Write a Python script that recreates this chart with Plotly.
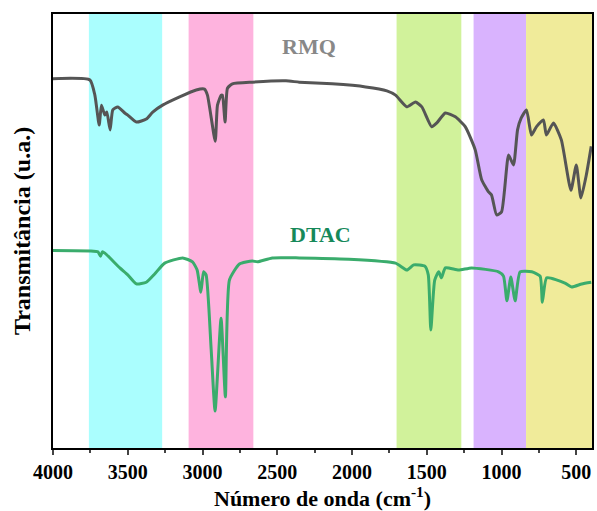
import plotly.graph_objects as go

# FTIR spectra (transmittance, arbitrary units)
rmq_wn = [4000, 3753, 3720, 3691, 3676, 3653, 3640, 3618, 3600, 3567, 3520, 3500, 3442,
          3376, 3333, 3267, 3153, 3042, 2987, 2967, 2915, 2900, 2875, 2867, 2849, 2833,
          2800, 2667, 2442, 2353, 2133, 1909, 1767, 1709, 1633, 1576, 1533, 1467, 1433,
          1376, 1309, 1242, 1176, 1133, 1087, 1067, 1033, 1000, 953, 920, 893, 869, 833,
          800, 767, 720, 700, 653, 600, 536, 500, 469, 433, 400]
rmq_t = [85.1, 84.8, 81.3, 74.4, 79.0, 76.7, 77.4, 73.3, 77.9, 78.6, 77.2, 76.7, 75.1,
         75.8, 77.4, 79.0, 80.9, 82.5, 82.7, 81.3, 70.7, 79.0, 81.3, 81.3, 75.1, 82.9,
         83.9, 84.3, 84.6, 84.3, 83.9, 83.2, 82.3, 81.3, 78.6, 79.7, 78.6, 74.0, 74.9,
         77.2, 76.3, 74.0, 68.7, 61.8, 59.0, 58.3, 53.7, 54.4, 67.5, 65.2, 73.3, 76.0, 77.9,
         72.1, 74.0, 75.6, 72.1, 74.9, 71.0, 59.4, 65.2, 57.6, 62.9, 69.5]

dtac_wn = [4000, 3753, 3700, 3682, 3670, 3653, 3553, 3500, 3442, 3376, 3320, 3253, 3133,
           3067, 3036, 3011, 2993, 2976, 2942, 2916, 2876, 2847, 2820, 2753, 2667, 2633,
           2533, 2353, 2020, 1709, 1633, 1587, 1513, 1490, 1473, 1447, 1420, 1402, 1376,
           1287, 1200, 1020, 987, 964, 938, 909, 876, 798, 742, 727, 698, 576, 531, 464, 400]
dtac_t = [45.5, 45.4, 45.2, 44.2, 45.2, 44.9, 41.5, 39.9, 37.8, 38.2, 40.1, 42.6, 43.8,
          42.9, 41.0, 35.9, 40.6, 39.9, 22.6, 8.5, 29.9, 11.8, 38.7, 42.4, 43.1, 42.9,
          43.8, 43.8, 43.5, 42.6, 41.0, 42.2, 41.9, 39.9, 27.2, 38.7, 40.6, 39.2, 41.5,
          41.0, 41.5, 40.6, 39.6, 33.9, 39.4, 33.9, 40.6, 40.6, 39.6, 33.6, 39.2, 38.0,
          37.1, 37.8, 38.2]

# Highlighted spectral regions (cm-1) and their fill colours
band_start = [3760, 3093, 1702, 1187, 836]
band_end = [3270, 2660, 1269, 836, 395]
band_color = ["#aafefe", "#feb3de", "#d1f29b", "#d9b3fe", "#f0eb9a"]

series_names = ["RMQ", "DTAC"]
series_color = ["#555555", "#3aac6c"]
label_color = ["#888888", "#16895a"]
label_wn = [2287, 2210]
label_t = [92.4, 49.1]

tick_vals = [4000, 3500, 3000, 2500, 2000, 1500, 1000, 500]

fig = go.Figure()

for x0, x1, c in zip(band_start, band_end, band_color):
    fig.add_vrect(x0=x0, x1=x1, fillcolor=c, opacity=1, line_width=0, layer="below")

for name, wn, t, c in zip(series_names, [rmq_wn, dtac_wn], [rmq_t, dtac_t], series_color):
    fig.add_trace(go.Scatter(x=wn, y=t, mode="lines", name=name,
                             line=dict(color=c, width=3, shape="spline", smoothing=0.5),
                             showlegend=False))

for name, x, y, c in zip(series_names, label_wn, label_t, label_color):
    fig.add_annotation(x=x, y=y, text=name, showarrow=False,
                       font=dict(family="Liberation Serif", size=22, color=c, weight="bold"))

# x-axis title placed below the tick labels
fig.add_annotation(xref="paper", yref="paper", x=0.5, y=-0.112, yanchor="middle",
                   text="Número de onda (cm<sup>-1</sup>)", showarrow=False,
                   font=dict(family="Liberation Serif", size=22, color="black", weight="bold"))

fig.update_layout(
    width=597, height=511,
    margin=dict(l=53, r=3, t=14, b=63),
    plot_bgcolor="white", paper_bgcolor="white",
    font=dict(family="Liberation Serif", color="black", weight="bold"),
)
fig.update_xaxes(
    range=[4000, 395], tickvals=tick_vals,
    ticktext=[str(v) for v in tick_vals],
    tickfont=dict(size=20, weight="bold"), ticks="outside", ticklen=5, tickwidth=2,
    minor=dict(dtick=250, tick0=0, ticks="outside", ticklen=3, tickwidth=2),
    showline=True, linecolor="black", linewidth=2, mirror=True, showgrid=False, zeroline=False,
)
fig.update_yaxes(
    range=[0, 100], showticklabels=False, ticks="",
    showline=True, linecolor="black", linewidth=2, mirror=True, showgrid=False, zeroline=False,
    title=dict(text="Transmitância (u.a.)", font=dict(size=24, weight="bold"), standoff=14),
)

fig.write_html("out.html")
